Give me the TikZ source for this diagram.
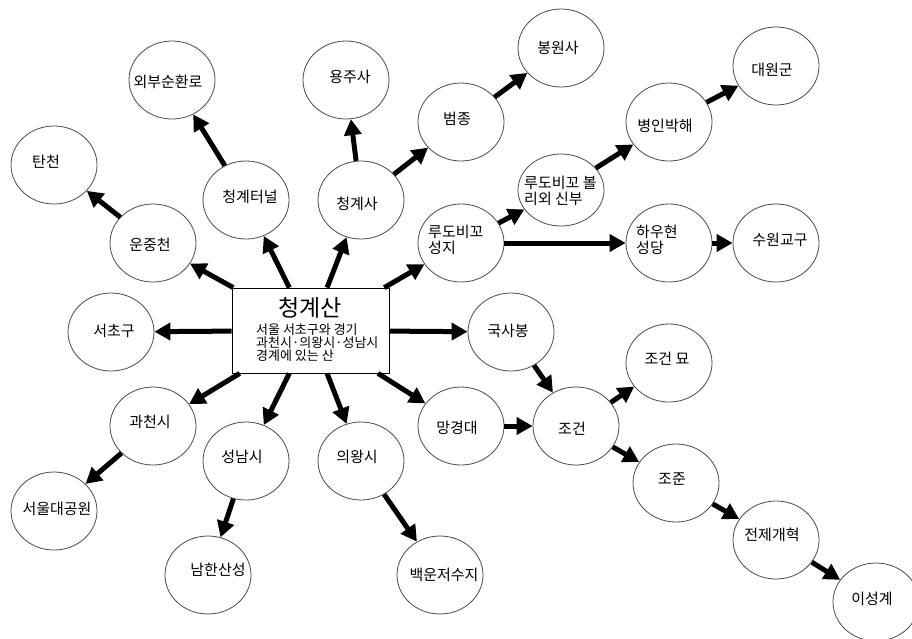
\documentclass[tikz,border=0pt]{standalone}
\usepackage{fontspec}
\setmainfont{Noto Sans CJK KR}
\usetikzlibrary{shapes.geometric,arrows.meta}
\tikzset{
  bub/.style={ellipse, draw=black!70, line width=0.8pt, minimum width=86pt, minimum height=78pt, inner sep=0pt},
  lbl/.style={font=\fontsize{15pt}{16.5pt}\selectfont, inner sep=0pt, align=left},
  arr/.style={line width=5pt, -{Triangle[length=16pt,width=17pt]}},
  mainbox/.style={draw=black, line width=0.8pt, minimum width=157pt, minimum height=85pt, inner sep=0pt}
}
\begin{document}
\begin{tikzpicture}[x=1pt,y=-1pt]
\clip (0,0) rectangle (912,638);
\fill[white] (0,0) rectangle (912,638);
% central box
\node[mainbox] (box) at (310.5,330.5) {};
\node[inner sep=0pt, font=\fontsize{23pt}{25pt}\selectfont] (title) at (310,308) {청계산};
\node[inner sep=0pt, anchor=north west, align=left, font=\fontsize{13pt}{10.5pt}\selectfont] (desc) at (256,324) {서울 서초구와 경기\\과천시·의왕시·성남시\\경계에 있는 산};
% ellipses
\node[bub] (oebu) at (172,80) {};
\node[bub] (yongju) at (346,80) {};
\node[bub] (tan) at (54,165) {};
\node[bub] (tunnel) at (246,200) {};
\node[bub] (cgsa) at (361,200) {};
\node[bub] (unjung) at (153,243) {};
\node[bub] (beom) at (461,122) {};
\node[bub] (seongji) at (461,243) {};
\node[bub] (bongwon) at (561,48) {};
\node[bub] (daewon) at (776,66) {};
\node[bub] (byeongin) at (669,122) {};
\node[bub, minimum height=72pt] (bolli) at (561,190) {};
\node[bub] (hauhyeon) at (669,243) {};
\node[bub] (suwon) at (776,243) {};
\node[bub] (seocho) at (111,332) {};
\node[bub] (gwacheon) at (153,426) {};
\node[bub] (seouldae) at (54,511) {};
\node[bub] (seongnam) at (246,461) {};
\node[bub] (namhan) at (208,575) {};
\node[bub] (uiwang) at (361,461) {};
\node[bub] (baegun) at (440,575) {};
\node[bub] (manggyeong) at (461,426) {};
\node[bub] (guksa) at (511,332) {};
\node[bub] (jomyo) at (669,363) {};
\node[bub] (jogeon) at (576,426) {};
\node[bub] (jojun) at (676,483) {};
\node[bub] (jeonje) at (776,540) {};
\node[bub] (iseong) at (876,602) {};
% labels
\node[lbl] (t-oebu) at (168,82) {외부순환로};
\node[lbl] (t-yongju) at (350,77) {용주사};
\node[lbl] (t-tan) at (46,162) {탄천};
\node[lbl] (t-tunnel) at (250,197) {청계터널};
\node[lbl] (t-cgsa) at (357,204) {청계사};
\node[lbl] (t-unjung) at (150,245) {운중천};
\node[lbl] (t-beom) at (457,119) {범종};
\node[lbl, anchor=west] (t-seongji) at (428,240) {루도비꼬\\성지};
\node[lbl] (t-bongwon) at (558,48) {봉원사};
\node[lbl] (t-daewon) at (772,70) {대원군};
\node[lbl] (t-byeongin) at (665,126) {병인박해};
\node[lbl, anchor=west] (t-bolli) at (524,191) {루도비꼬 볼\\리외 신부};
\node[lbl, anchor=west] (t-hauhyeon) at (636,240) {하우현\\성당};
\node[lbl] (t-suwon) at (780,240) {수원교구};
\node[lbl] (t-seocho) at (114,331) {서초구};
\node[lbl] (t-gwacheon) at (150,422) {과천시};
\node[lbl] (t-seouldae) at (57,509) {서울대공원};
\node[lbl] (t-seongnam) at (242,457) {성남시};
\node[lbl] (t-namhan) at (218,570) {남한산성};
\node[lbl] (t-uiwang) at (357,457) {의왕시};
\node[lbl] (t-baegun) at (444,575) {백운저수지};
\node[lbl] (t-manggyeong) at (457,428) {망경대};
\node[lbl] (t-guksa) at (508,331) {국사봉};
\node[lbl] (t-jomyo) at (667,359) {조건 묘};
\node[lbl] (t-jogeon) at (572,429) {조건};
\node[lbl] (t-jojun) at (672,479) {조준};
\node[lbl] (t-jeonje) at (772,535) {전제개혁};
\node[lbl] (t-iseong) at (872,599) {이성계};
% arrows
\draw[arr] (box) -- (unjung);
\draw[arr] (box) -- (tunnel);
\draw[arr] (box) -- (cgsa);
\draw[arr] (box) -- (seongji);
\draw[arr] (box) -- (seocho);
\draw[arr] (box) -- (guksa);
\draw[arr] (box) -- (gwacheon);
\draw[arr] (box) -- (seongnam);
\draw[arr] (box) -- (uiwang);
\draw[arr] (box) -- (manggyeong);
\draw[arr] (unjung) -- (tan);
\draw[arr] (tunnel) -- (oebu);
\draw[arr] (cgsa) -- (yongju);
\draw[arr] (cgsa) -- (beom);
\draw[arr] (beom) -- (bongwon);
\draw[arr] (seongji) -- (bolli);
\draw[arr] (seongji) -- (hauhyeon);
\draw[arr] (bolli) -- (byeongin);
\draw[arr] (byeongin) -- (daewon);
\draw[arr] (hauhyeon) -- (suwon);
\draw[arr] (gwacheon) -- (seouldae);
\draw[arr] (seongnam) -- (namhan);
\draw[arr] (uiwang) -- (baegun);
\draw[arr] (guksa) -- (jogeon);
\draw[arr] (manggyeong) -- (jogeon);
\draw[arr] (jogeon) -- (jomyo);
\draw[arr] (jogeon) -- (jojun);
\draw[arr] (jojun) -- (jeonje);
\draw[arr] (jeonje) -- (iseong);
\end{tikzpicture}
\end{document}
